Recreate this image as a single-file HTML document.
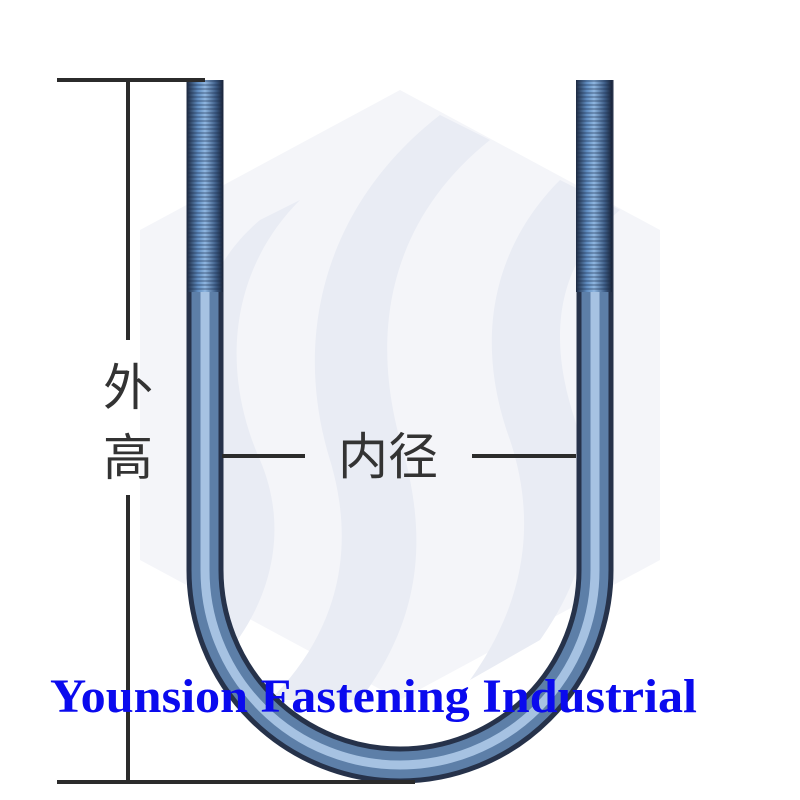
<!DOCTYPE html>
<html><head><meta charset="utf-8"><style>
html,body{margin:0;padding:0;background:#fff;}
svg{display:block}
</style></head><body>
<svg width="800" height="800" viewBox="0 0 800 800" xmlns="http://www.w3.org/2000/svg">
<defs>
<linearGradient id="rod" x1="0" x2="1" y1="0" y2="0">
<stop offset="0" stop-color="#1e2a40"/><stop offset="0.3" stop-color="#5f8cc0"/><stop offset="0.5" stop-color="#8fb6e0"/><stop offset="0.8" stop-color="#3e5e88"/><stop offset="1" stop-color="#1a2438"/>
</linearGradient>
<pattern id="thr" width="4" height="4" patternUnits="userSpaceOnUse"><rect width="40" height="2" fill="#1c2c4a" opacity="0.3"/></pattern>
</defs>
<!-- watermark -->
<polygon points="400,90 660,230 660,560 400,700 140,560 140,230" fill="#f4f5f9"/>
<path d="M440,115 C330,200 290,330 330,460 C360,560 330,640 270,700 L360,700 C420,620 430,540 400,440 C370,330 390,220 490,140 Z" fill="#e9ecf4"/>
<path d="M560,180 C500,240 470,330 510,440 C540,530 520,610 470,680 L540,640 C590,570 600,500 575,420 C545,330 560,260 620,210 Z" fill="#e9ecf4"/>
<path d="M300,200 C230,270 220,370 260,460 C290,530 270,600 230,650 L200,600 C230,540 230,500 205,440 C175,360 200,270 260,220 Z" fill="#e9ecf4"/>
<!-- U bolt -->
<path d="M205,80 L205,570 A195,195 0 0 0 595,570 L595,80" fill="none" stroke="#26324a" stroke-width="37"/>
<path d="M205,80 L205,570 A195,195 0 0 0 595,570 L595,80" fill="none" stroke="#5d7fa8" stroke-width="27"/>
<path d="M205,80 L205,570 A195,195 0 0 0 595,570 L595,80" fill="none" stroke="#a6c2e2" stroke-width="9"/>
<rect x="187" y="80" width="36" height="212" fill="url(#rod)"/>
<rect x="187" y="80" width="36" height="212" fill="url(#thr)"/>
<rect x="576" y="80" width="36" height="212" fill="url(#rod)"/>
<rect x="576" y="80" width="36" height="212" fill="url(#thr)"/>
<!-- dimension lines -->
<g stroke="#2b2b2b" stroke-width="4" fill="none">
<line x1="57" y1="80" x2="205" y2="80"/>
<line x1="57" y1="782" x2="415" y2="782"/>
<line x1="128" y1="80" x2="128" y2="340"/>
<line x1="128" y1="495" x2="128" y2="782"/>
<line x1="222" y1="456" x2="305" y2="456"/>
<line x1="472" y1="456" x2="576" y2="456"/>
</g>
<g font-family="Liberation Sans, Noto Sans CJK SC, sans-serif" font-size="50" fill="#333">
<text x="103" y="405">外</text>
<text x="103" y="475">高</text>
<text x="338" y="474">内径</text>
</g>
<text x="50" y="712" font-family="Liberation Serif, serif" font-weight="bold" font-size="48" fill="#0a0aee" textLength="647" lengthAdjust="spacingAndGlyphs">Younsion Fastening Industrial</text>
</svg>
</body></html>
